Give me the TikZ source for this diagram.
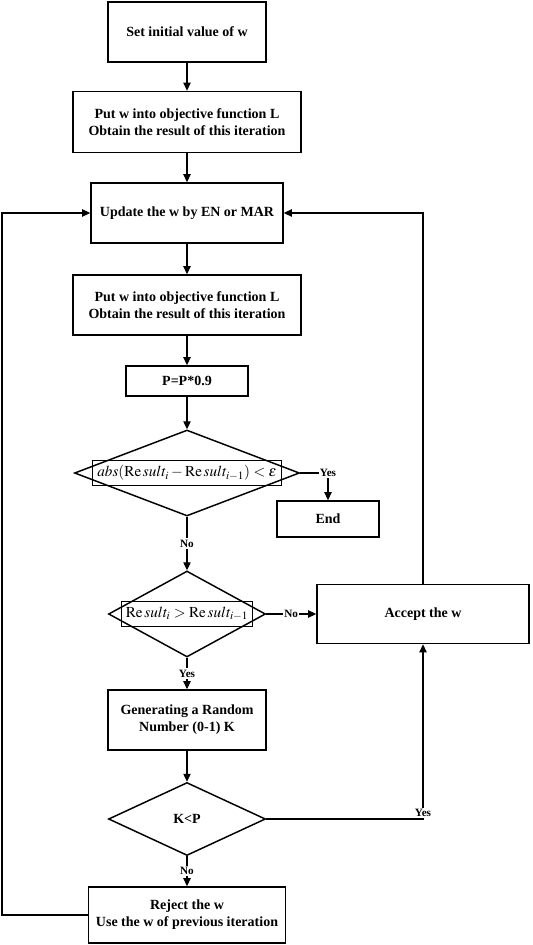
\documentclass[tikz,border=0pt]{standalone}
\usepackage{mathptmx}
\usepackage{fontspec}
\setmainfont{Liberation Serif}
\usetikzlibrary{shapes.geometric, arrows.meta}

\begin{document}
\begin{tikzpicture}[x=0.75pt, y=-0.75pt, line width=0.9pt,
		box/.style={draw, line width=1.2pt, inner sep=0pt, align=center, font=\fontsize{10.5}{12.75}\selectfont\bfseries},
		dec/.style={draw, diamond, line width=1.1pt, inner sep=0pt},
		frm/.style={draw, line width=0.7pt, inner sep=0pt, font=\fontsize{11.4}{14}\selectfont},
		lab/.style={fill=white, inner sep=1pt, font=\fontsize{8.4}{10}\selectfont\bfseries},
		arr/.style={-{Triangle[length=6pt,width=5.5pt]}}]
			\useasboundingbox (0,0) rectangle (532,945);

			\node [box, minimum width=118.5pt, minimum height=45pt] (init) at (187,32) {Set initial value of w};
			\node [box, minimum width=171pt, minimum height=45.75pt] (put1) at (187,122) {Put w into objective function L\\Obtain the result of this iteration};
			\node [box, minimum width=144pt, minimum height=45pt] (update) at (187,213) {Update the w by EN or MAR};
			\node [box, minimum width=171pt, minimum height=45pt] (put2) at (187,305) {Put w into objective function L\\Obtain the result of this iteration};
			\node [box, minimum width=91.5pt, minimum height=22.5pt] (pupd) at (187,381) {P=P*0.9};

			\node [dec, minimum width=168.75pt, minimum height=64.5pt] (dia1) at (187,473) {};
			\node [frm, minimum width=141.75pt, minimum height=18.75pt] (conv) at (dia1) {$abs(\mathrm{Re}\,sult_i-\mathrm{Re}\,sult_{i-1})<\varepsilon$};
			\node [box, minimum width=76.5pt, minimum height=27pt] (end) at (328,519) {End};

			\node [dec, minimum width=117.75pt, minimum height=64.5pt] (dia2) at (187,614) {};
			\node [frm, minimum width=98.25pt, minimum height=18.75pt] (cmp) at (dia2) {$\mathrm{Re}\,sult_i>\mathrm{Re}\,sult_{i-1}$};
			\node [box, minimum width=159pt, minimum height=44.25pt] (accept) at (423,614) {Accept the w};

			\node [box, minimum width=118.5pt, minimum height=45pt] (gen) at (187,720) {Generating a Random\\Number (0-1) K};
			\node [dec, minimum width=117.75pt, minimum height=54.75pt, font=\fontsize{10.5}{12.75}\selectfont\bfseries] (dia3) at (187,819) {K<P};
			\node [box, minimum width=147.75pt, minimum height=42pt] (reject) at (187,915) {Reject the w\\Use the w of previous iteration};

			\coordinate (lc) at (2,213);
			\coordinate (rc) at (423,213);

			\draw [arr] (init) to (put1);
			\draw [arr] (put1) to (update);
			\draw [arr] (update) to (put2);
			\draw [arr] (put2) to (pupd);
			\draw [arr] (pupd) to (dia1);
			\draw [arr] (dia1.east) -| node [lab] {Yes} (end.north);
			\draw [arr] (dia1.south) to node [lab] {No} (dia2.north);
			\draw [arr] (dia2.east) to node [lab] {No} (accept.west);
			\draw [arr] (dia2.south) to node [lab] {Yes} (gen.north);
			\draw [arr] (gen) to (dia3);
			\draw [arr] (dia3.east) -| node [lab, above] {Yes} (accept.south);
			\draw [arr] (dia3.south) to node [lab] {No} (reject.north);
			\draw [arr] (reject.west) -| (lc) to (update.west);
			\draw [arr] (accept.north) to (rc) to (update.east);
		\end{tikzpicture}
\end{document}
